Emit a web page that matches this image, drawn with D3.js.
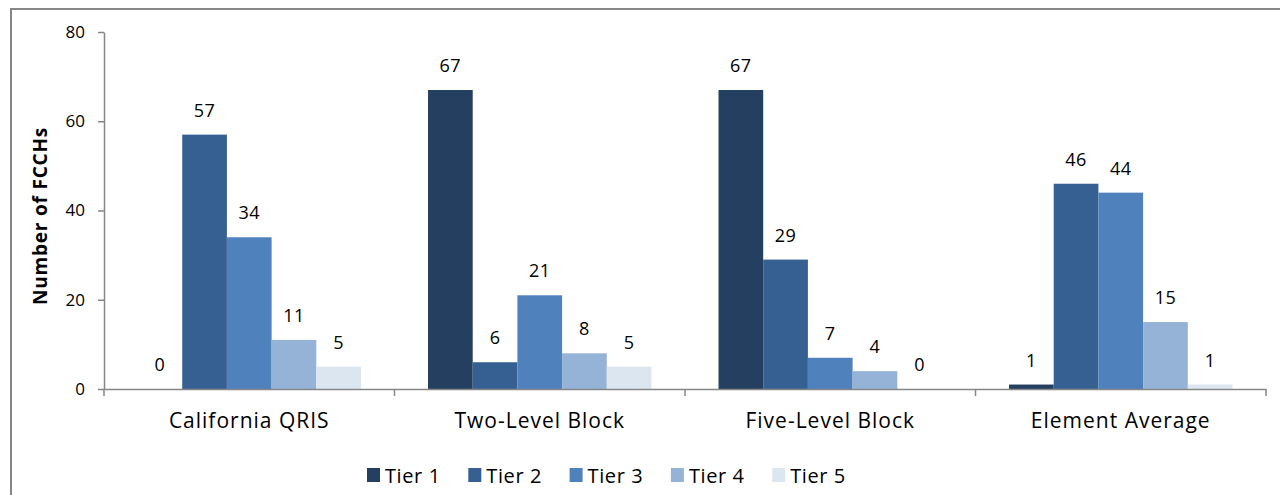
<!DOCTYPE html>
<html><head><meta charset="utf-8">
<script src="https://cdn.jsdelivr.net/npm/d3@7"></script>
<style>body{margin:0;background:#fff}svg{display:block}text{font-family:"Open Sans",sans-serif;fill:#000}</style>
</head><body><svg id="c" width="1280" height="495"></svg>
<script>
const categories = ["California QRIS","Two-Level Block","Five-Level Block","Element Average"];
const tiers = ["Tier 1","Tier 2","Tier 3","Tier 4","Tier 5"];
const tier1 = [0,67,67,1];
const tier2 = [57,6,29,46];
const tier3 = [34,21,7,44];
const tier4 = [11,8,4,15];
const tier5 = [5,5,0,1];
const yTicks = [0,20,40,60,80];
const colors = ["#253F60","#366092","#4F81BD","#95B3D7","#DCE6F1"];
const series = [tier1,tier2,tier3,tier4,tier5];

const svg = d3.select("#c");
const L=104, R=1266, T=32, B=389;
// frame
svg.append("path").attr("d",`M11,495V9H1280`).attr("fill","none").attr("stroke","#868686").attr("stroke-width",2);

const x0 = d3.scaleBand().domain(categories).range([L,R]).padding(0);
const x1 = d3.scaleBand().domain(tiers).range([0,x0.bandwidth()]).paddingInner(0).paddingOuter(0.75);
const y = d3.scaleLinear().domain([0,80]).range([B,T]);

const data = [];
categories.forEach((c,i)=>tiers.forEach((t,j)=>data.push({c,t,j,v:series[j][i]})));

svg.selectAll("rect.bar").data(data).enter().append("rect")
  .attr("x",d=>x0(d.c)+x1(d.t)).attr("width",x1.bandwidth())
  .attr("y",d=>y(d.v)).attr("height",d=>B-y(d.v))
  .attr("fill",d=>colors[d.j]);

svg.selectAll("text.lbl").data(data).enter().append("text")
  .attr("x",d=>x0(d.c)+x1(d.t)+x1.bandwidth()/2).attr("y",d=>y(d.v)-18)
  .attr("text-anchor","middle").attr("font-size",18).attr("letter-spacing",0.5).text(d=>d.v);

// y axis
const ya = svg.append("g").attr("transform",`translate(${L},0)`)
  .call(d3.axisLeft(y).tickValues(yTicks).tickSize(6).tickPadding(13).tickSizeOuter(0));
ya.select(".domain").attr("stroke","#868686").attr("stroke-width",1.5);
ya.selectAll(".tick line").attr("stroke","#868686").attr("stroke-width",1.5);
ya.selectAll("text").attr("font-size",17).attr("font-family","Open Sans").attr("fill","#000");

// x axis
const xa = svg.append("g").attr("transform",`translate(0,${B})`)
  .call(d3.axisBottom(x0).tickSize(0).tickPadding(0).tickSizeOuter(0));
xa.select(".domain").attr("stroke","#868686").attr("stroke-width",1.5);
xa.selectAll("text").attr("font-size",21).attr("letter-spacing",1).attr("font-family","Open Sans").attr("fill","#000")
  .attr("dy",null).attr("y",39);
const bounds = categories.map(c=>x0(c)).concat([R]);
svg.selectAll("line.xt").data(bounds).enter().append("line")
  .attr("x1",d=>d).attr("x2",d=>d).attr("y1",B).attr("y2",B+7)
  .attr("stroke","#868686").attr("stroke-width",1.5);

// y title
svg.append("text").attr("transform","translate(47,216) rotate(-90)")
  .attr("text-anchor","middle").attr("font-size",19).attr("letter-spacing",0.8).attr("font-weight","bold").text("Number of FCCHs");

// legend
const lg = svg.selectAll("g.lg").data(tiers).enter().append("g")
  .attr("transform",(d,i)=>`translate(${367+i*101.3},468)`);
lg.append("rect").attr("width",13).attr("height",14).attr("fill",(d,i)=>colors[i]);
lg.append("text").attr("x",18).attr("y",15).attr("font-size",20).attr("letter-spacing",0.6).text(d=>d);
</script></body></html>
